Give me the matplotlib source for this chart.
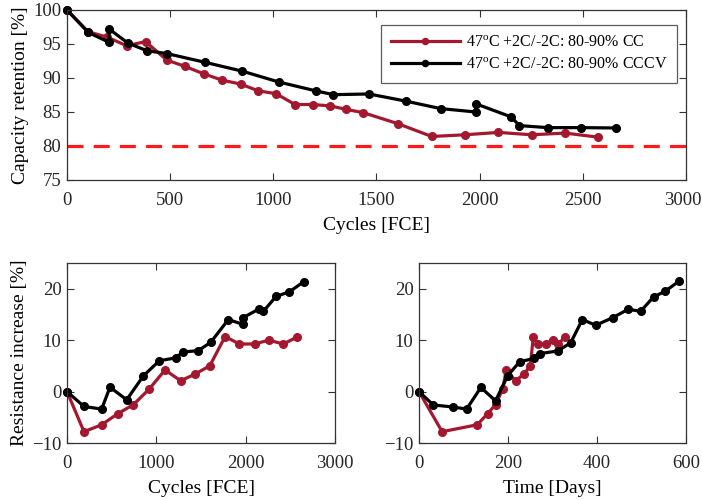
import matplotlib
matplotlib.use("Agg")
import matplotlib.pyplot as plt
from matplotlib.transforms import ScaledTranslation

plt.rcParams['font.family'] = ['Liberation Serif', 'DejaVu Serif']
plt.rcParams['mathtext.fontset'] = 'custom'
plt.rcParams['mathtext.rm'] = 'Liberation Serif'
plt.rcParams['font.size'] = 14

# Capacity retention vs. full cycle equivalents
cap_cc_fce = [0, 103, 195, 289, 381, 483, 572, 664, 750, 842, 928, 1013, 1105,
              1191, 1275, 1351, 1436, 1602, 1768, 1929, 2091, 2252, 2414, 2575]
cap_cc = [100, 96.8, 96.0, 94.75, 95.35, 92.65, 91.7, 90.6, 89.7, 89.1, 88.1,
          87.7, 86.1, 86.1, 85.9, 85.4, 84.9, 83.3, 81.4, 81.65, 82.0, 81.65,
          81.9, 81.3]
cap_cccv_fce = [0, 103, 204, 204, 297, 389, 483, 670, 850, 1028, 1207, 1291,
                1464, 1642, 1811, 1982, 1982, 2151, 2193, 2330, 2492, 2661]
cap_cccv = [100, 96.7, 95.25, 97.2, 95.1, 94.0, 93.6, 92.3, 91.0, 89.4, 88.1,
            87.55, 87.65, 86.6, 85.5, 85.0, 86.2, 84.3, 83.0, 82.7, 82.7, 82.65]
eol_threshold = 80

# Resistance increase vs. full cycle equivalents
res_cc_fce = [0, 190, 388, 568, 743, 918, 1097, 1273, 1433, 1598, 1770, 1930,
              2100, 2258, 2422, 2575]
res_cc = [0, -7.8, -6.45, -4.3, -2.55, 0.45, 4.2, 2.1, 3.4, 5.0, 10.7, 9.25,
          9.25, 10.0, 9.25, 10.6]
res_cccv_fce = [0, 190, 388, 481, 668, 855, 1034, 1217, 1295, 1470, 1610, 1806,
                1974, 1974, 2153, 2198, 2340, 2489, 2654]
res_cccv = [0, -2.9, -3.4, 0.85, -1.6, 3.05, 6.0, 6.55, 7.7, 7.95, 9.6, 14.0,
            13.05, 14.4, 16.1, 15.6, 18.5, 19.4, 21.4]

# Resistance increase vs. calendar time
res_cc_days = [0, 52, 131, 154, 172, 188, 196, 217, 236, 250, 257, 267, 285,
               300, 313, 328]
res_cc_t = [0, -7.8, -6.45, -4.3, -2.55, 0.45, 4.2, 2.1, 3.4, 5.0, 10.7, 9.25,
            9.25, 10.0, 9.25, 10.6]
res_cccv_days = [0, 32, 76, 107, 139, 172, 199, 226, 259, 273, 312, 341, 367,
                 397, 435, 470, 498, 527, 553, 585]
res_cccv_t = [0, -2.6, -3.0, -3.4, 0.8, -1.8, 3.05, 5.8, 6.45, 7.4, 7.9, 9.5,
              14.0, 12.9, 14.35, 16.0, 15.6, 18.4, 19.5, 21.5]

label_cc = r'47$^{\mathrm{o}}$C +2C/-2C: 80-90% CC'
label_cccv = r'47$^{\mathrm{o}}$C +2C/-2C: 80-90% CCCV'

RED = '#A3182F'
BLACK = '#000000'
line_kw = dict(lw=2.3, marker='o', ms=5.5, clip_on=False)

W, H = 702, 500
fig = plt.figure(figsize=(W / 100, H / 100), dpi=100)


def px_axes(x0, y0, x1, y1):
    return fig.add_axes([x0 / W, 1 - y1 / H, (x1 - x0) / W, (y1 - y0) / H])


def style(ax):
    ax.tick_params(direction='in', top=True, right=True, length=5, width=0.8,
                   colors='#333333', labelcolor='#262626', labelsize=13.5)
    ax.tick_params(axis='x', pad=8.5)
    ax.tick_params(axis='y', pad=4)
    for s in ax.spines.values():
        s.set_color('#333333')
        s.set_linewidth(0.9)


ax1 = px_axes(67, 10, 686, 180)
ax1.plot(cap_cc_fce, cap_cc, color=RED, label=label_cc, **line_kw)
ax1.plot(cap_cccv_fce, cap_cccv, color=BLACK, label=label_cccv, **line_kw)
ax1.axhline(eol_threshold, color='#FF1A1A', lw=2.3, dashes=(5, 3.2))
ax1.set_xlim(0, 3000)
ax1.set_ylim(75, 100)
ax1.set_xticks(range(0, 3001, 500))
ax1.set_yticks(range(75, 101, 5))
ax1.set_xlabel('Cycles [FCE]', labelpad=6)
ax1.set_ylabel('Capacity retention [%]', labelpad=3)
style(ax1)
# keep the rightmost tick label inside the canvas
last = ax1.xaxis.get_major_ticks()[-1].label1
last.set_transform(last.get_transform()
                   + ScaledTranslation(-3 / 100, 0, fig.dpi_scale_trans))
leg = ax1.legend(loc='upper right', bbox_to_anchor=(0.9855, 0.912),
                 borderaxespad=0, frameon=True, fancybox=False,
                 edgecolor='#333333', handlelength=4.3, handletextpad=0.4,
                 markerscale=0.8, fontsize=11.5, borderpad=0.6,
                 labelspacing=0.4)
leg.get_frame().set_linewidth(0.9)

ax2 = px_axes(67, 263, 335, 443)
ax2.plot(res_cc_fce, res_cc, color=RED, **line_kw)
ax2.plot(res_cccv_fce, res_cccv, color=BLACK, **line_kw)
ax2.set_xlim(0, 3000)
ax2.set_ylim(-10, 25)
ax2.set_xticks([0, 1000, 2000, 3000])
ax2.set_yticks([-10, 0, 10, 20])
ax2.set_xlabel('Cycles [FCE]', labelpad=6)
ax2.set_ylabel('Resistance increase [%]', labelpad=3)
style(ax2)

ax3 = px_axes(419, 263, 686, 443)
ax3.plot(res_cc_days, res_cc_t, color=RED, **line_kw)
ax3.plot(res_cccv_days, res_cccv_t, color=BLACK, **line_kw)
ax3.set_xlim(0, 600)
ax3.set_ylim(-10, 25)
ax3.set_xticks([0, 200, 400, 600])
ax3.set_yticks([-10, 0, 10, 20])
ax3.set_xlabel('Time [Days]', labelpad=6)
style(ax3)

fig.savefig('out.png', dpi=100)
